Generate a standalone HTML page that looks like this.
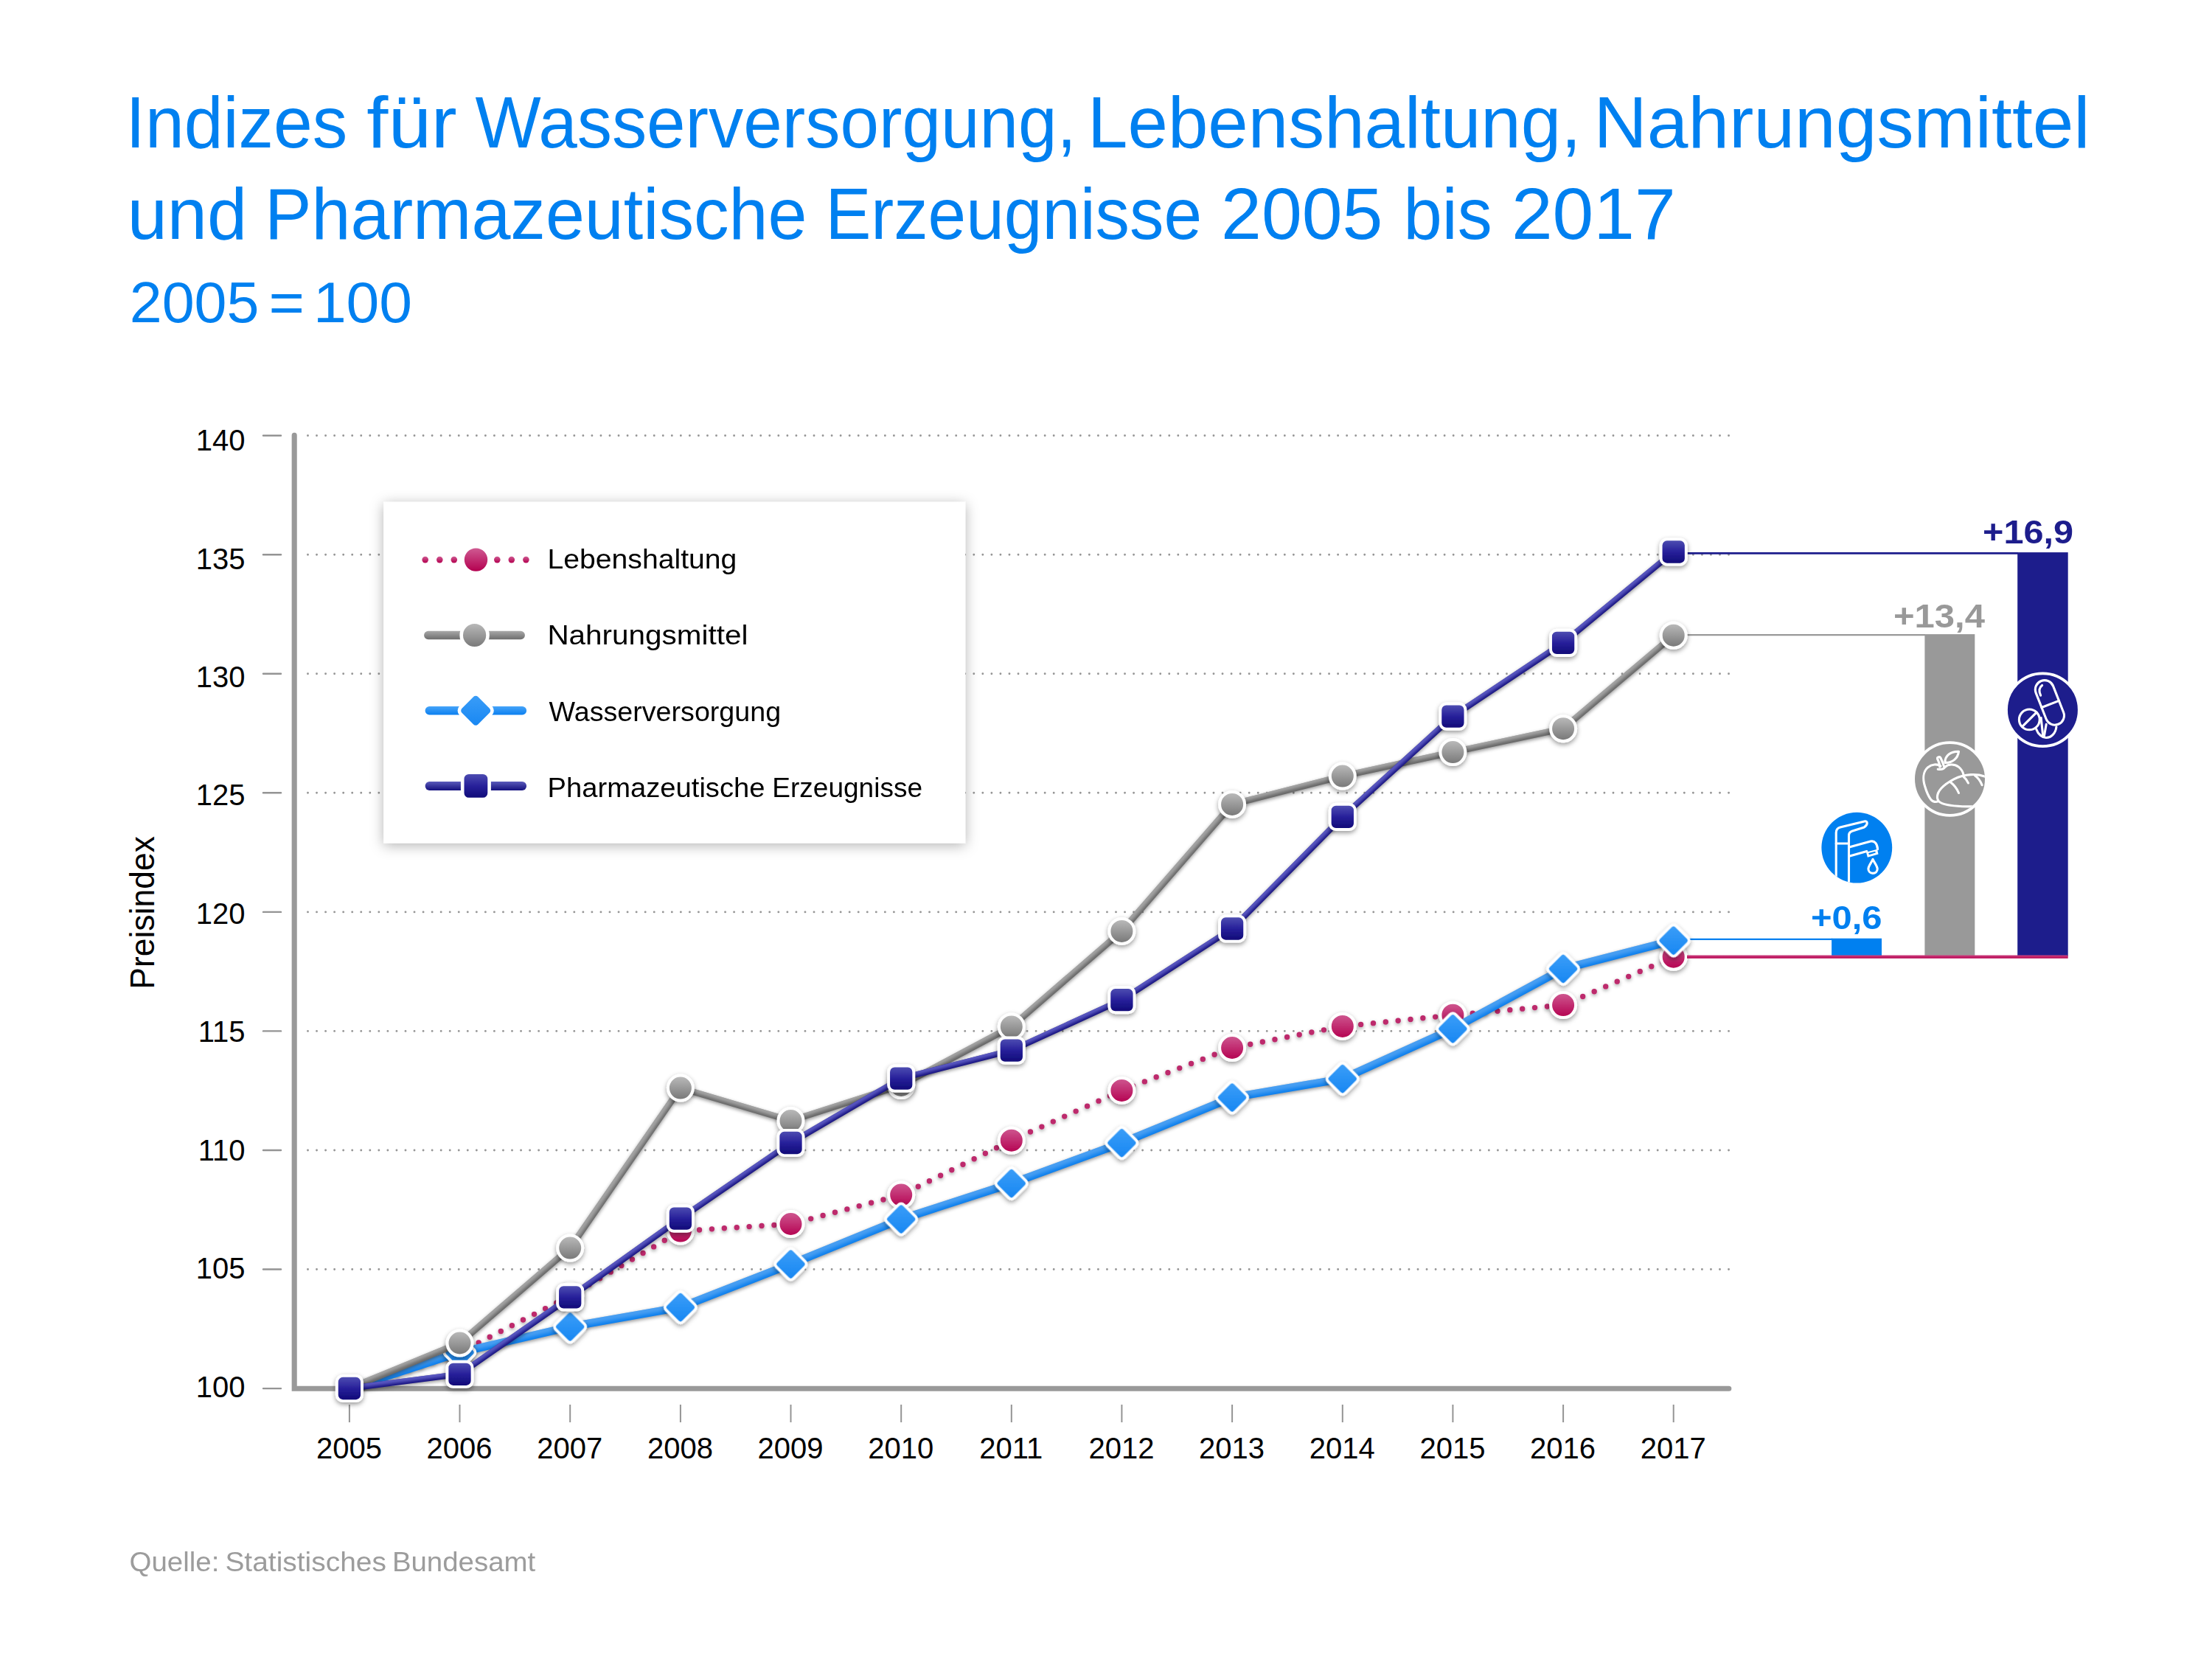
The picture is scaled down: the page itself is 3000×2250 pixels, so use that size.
<!DOCTYPE html>
<html lang="de"><head><meta charset="utf-8">
<title>Indizes für Wasserversorgung, Lebenshaltung, Nahrungsmittel und Pharmazeutische Erzeugnisse 2005 bis 2017</title>
<style>html,body{margin:0;padding:0;background:#fff;}body{width:3000px;height:2250px;overflow:hidden;}svg{display:block;font-family:'Liberation Sans', sans-serif;}</style>
</head><body>
<svg width="3000" height="2250" viewBox="0 0 3000 2250">
<defs>
<filter id="sh" x="-5%" y="-5%" width="110%" height="110%"><feDropShadow dx="0" dy="2" stdDeviation="2.6" flood-color="#000" flood-opacity=".38"/></filter>
<filter id="tGray" x="-3%" y="-3%" width="106%" height="106%" color-interpolation-filters="sRGB"><feGaussianBlur in="SourceAlpha" stdDeviation="2.3" result="b"/><feOffset in="b" dx="-1" dy="-3.6" result="o"/><feFlood flood-color="#fff" flood-opacity=".40"/><feComposite operator="in" in2="o"/><feComposite operator="in" in2="SourceAlpha" result="hl"/><feGaussianBlur in="SourceAlpha" stdDeviation="2.8"/><feOffset dy="2.4"/><feComponentTransfer><feFuncA type="linear" slope=".42"/></feComponentTransfer><feMerge><feMergeNode/><feMergeNode in="SourceGraphic"/><feMergeNode in="hl"/></feMerge></filter>
<filter id="tNavy" x="-3%" y="-3%" width="106%" height="106%" color-interpolation-filters="sRGB"><feGaussianBlur in="SourceAlpha" stdDeviation="2.1" result="b"/><feOffset in="b" dx="-1" dy="-3.4" result="o"/><feFlood flood-color="#8a8af0" flood-opacity=".6"/><feComposite operator="in" in2="o"/><feComposite operator="in" in2="SourceAlpha" result="hl"/><feGaussianBlur in="SourceAlpha" stdDeviation="2.8"/><feOffset dy="2.4"/><feComponentTransfer><feFuncA type="linear" slope=".42"/></feComponentTransfer><feMerge><feMergeNode/><feMergeNode in="SourceGraphic"/><feMergeNode in="hl"/></feMerge></filter>
<filter id="tBlue" x="-3%" y="-3%" width="106%" height="106%" color-interpolation-filters="sRGB"><feGaussianBlur in="SourceAlpha" stdDeviation="2.8" result="b"/><feOffset in="b" dx="-1" dy="-4.4" result="o"/><feFlood flood-color="#fff" flood-opacity=".25"/><feComposite operator="in" in2="o"/><feComposite operator="in" in2="SourceAlpha" result="hl"/><feGaussianBlur in="SourceAlpha" stdDeviation="2.8"/><feOffset dy="2.4"/><feComponentTransfer><feFuncA type="linear" slope=".42"/></feComponentTransfer><feMerge><feMergeNode/><feMergeNode in="SourceGraphic"/><feMergeNode in="hl"/></feMerge></filter>
<filter id="shm" x="-40%" y="-40%" width="180%" height="180%"><feDropShadow dx="0" dy="2.8" stdDeviation="3" flood-color="#000" flood-opacity=".4"/></filter>
<filter id="shbox" x="-10%" y="-10%" width="120%" height="125%"><feDropShadow dx="0" dy="3" stdDeviation="9" flood-color="#000" flood-opacity=".30"/></filter>
<linearGradient id="gGray" x1="0" y1="0" x2="0" y2="1"><stop offset="0" stop-color="#bdbdbd"/><stop offset="1" stop-color="#757575"/></linearGradient>
<linearGradient id="gNavy" x1="0" y1="0" x2="0" y2="1"><stop offset="0" stop-color="#5252b4"/><stop offset=".5" stop-color="#27209a"/><stop offset="1" stop-color="#0d0874"/></linearGradient>
<linearGradient id="gPink" x1="0" y1="0" x2="0" y2="1"><stop offset="0" stop-color="#cf5a92"/><stop offset="1" stop-color="#b4004f"/></linearGradient>
<linearGradient id="gBlue" x1="0" y1="0" x2="0" y2="1"><stop offset="0" stop-color="#3d9ff8"/><stop offset="1" stop-color="#1585f2"/></linearGradient>
<linearGradient id="gBlueD" x1="0" y1="0" x2="1" y2="1"><stop offset="0" stop-color="#3d9ff8"/><stop offset="1" stop-color="#1585f2"/></linearGradient>
<linearGradient id="gPinkL" x1="0" y1="0" x2="0" y2="1"><stop offset="0" stop-color="#cc4381"/><stop offset="1" stop-color="#b60250"/></linearGradient>
<linearGradient id="lGray" x1="0" y1="0" x2="0" y2="1"><stop offset="0" stop-color="#a8a8a8"/><stop offset="1" stop-color="#6e6e6e"/></linearGradient>
<linearGradient id="lNavy" x1="0" y1="0" x2="0" y2="1"><stop offset="0" stop-color="#5a5aba"/><stop offset="1" stop-color="#14107e"/></linearGradient>
<linearGradient id="lBlue" x1="0" y1="0" x2="0" y2="1"><stop offset="0" stop-color="#46a4f9"/><stop offset="1" stop-color="#0c80f0"/></linearGradient>
<g id="mC"><circle r="19" fill="#fff"/></g>
<clipPath id="cpF"><circle cx="2518.3" cy="1149.7" r="47.9"/></clipPath>
<clipPath id="cpA"><circle cx="2644.5" cy="1056.5" r="47.5"/></clipPath>
</defs>
<rect width="3000" height="2250" fill="#fff"/>
<text x="170.5" y="199.8" font-size="99" fill="#0080f0" textLength="300.8" lengthAdjust="spacingAndGlyphs">Indizes</text>
<text x="497.3" y="199.8" font-size="99" fill="#0080f0" textLength="122.3" lengthAdjust="spacingAndGlyphs">für</text>
<text x="644.5" y="199.8" font-size="99" fill="#0080f0" textLength="815.3" lengthAdjust="spacingAndGlyphs">Wasserversorgung,</text>
<text x="1475.1" y="199.8" font-size="99" fill="#0080f0" textLength="669.3" lengthAdjust="spacingAndGlyphs">Lebenshaltung,</text>
<text x="2161.5" y="199.8" font-size="99" fill="#0080f0" textLength="673.1" lengthAdjust="spacingAndGlyphs">Nahrungsmittel</text>
<text x="172.7" y="323.5" font-size="99" fill="#0080f0" textLength="162.4" lengthAdjust="spacingAndGlyphs">und</text>
<text x="359.0" y="323.5" font-size="99" fill="#0080f0" textLength="735.5" lengthAdjust="spacingAndGlyphs">Pharmazeutische</text>
<text x="1119.4" y="323.5" font-size="99" fill="#0080f0" textLength="510.6" lengthAdjust="spacingAndGlyphs">Erzeugnisse</text>
<text x="1656.1" y="323.5" font-size="99" fill="#0080f0" textLength="219.3" lengthAdjust="spacingAndGlyphs">2005</text>
<text x="1903.6" y="323.5" font-size="99" fill="#0080f0" textLength="120.1" lengthAdjust="spacingAndGlyphs">bis</text>
<text x="2049.9" y="323.5" font-size="99" fill="#0080f0" textLength="222.8" lengthAdjust="spacingAndGlyphs">2017</text>
<text x="175.7" y="437.3" font-size="77.5" fill="#0080f0" textLength="175.8" lengthAdjust="spacingAndGlyphs">2005</text>
<text x="364.5" y="437.3" font-size="77.5" fill="#0080f0" textLength="48.5" lengthAdjust="spacingAndGlyphs">=</text>
<text x="559.1" y="437.3" font-size="77.5" fill="#0080f0" text-anchor="end" textLength="134.2" lengthAdjust="spacingAndGlyphs">100</text>
<g stroke="#969696" stroke-width="2.9" stroke-linecap="round" stroke-dasharray="0 12.044" fill="none">
<path d="M417.5 1721.5H2346"/>
<path d="M417.5 1560.0H2346"/>
<path d="M417.5 1398.4H2346"/>
<path d="M417.5 1236.9H2346"/>
<path d="M417.5 1075.3H2346"/>
<path d="M417.5 913.8H2346"/>
<path d="M417.5 752.2H2346"/>
<path d="M417.5 590.7H2346"/>
</g>
<g stroke="#949494" stroke-width="2">
<path stroke-linecap="round" stroke-width="2.4" d="M357 1883.1H381"/>
<path stroke-linecap="round" stroke-width="2.4" d="M357 1721.5H381"/>
<path stroke-linecap="round" stroke-width="2.4" d="M357 1560.0H381"/>
<path stroke-linecap="round" stroke-width="2.4" d="M357 1398.4H381"/>
<path stroke-linecap="round" stroke-width="2.4" d="M357 1236.9H381"/>
<path stroke-linecap="round" stroke-width="2.4" d="M357 1075.3H381"/>
<path stroke-linecap="round" stroke-width="2.4" d="M357 913.8H381"/>
<path stroke-linecap="round" stroke-width="2.4" d="M357 752.2H381"/>
<path stroke-linecap="round" stroke-width="2.4" d="M357 590.7H381"/>
<path d="M473.9 1905V1929"/>
<path d="M623.5 1905V1929"/>
<path d="M773.2 1905V1929"/>
<path d="M922.9 1905V1929"/>
<path d="M1072.5 1905V1929"/>
<path d="M1222.2 1905V1929"/>
<path d="M1371.8 1905V1929"/>
<path d="M1521.4 1905V1929"/>
<path d="M1671.1 1905V1929"/>
<path d="M1820.8 1905V1929"/>
<path d="M1970.4 1905V1929"/>
<path d="M2120.1 1905V1929"/>
<path d="M2269.7 1905V1929"/>
</g>
<text x="332.5" y="1894.8" font-size="40" fill="#000" text-anchor="end">100</text>
<text x="332.5" y="1734.3" font-size="40" fill="#000" text-anchor="end">105</text>
<text x="332.5" y="1573.9" font-size="40" fill="#000" text-anchor="end">110</text>
<text x="332.5" y="1413.4" font-size="40" fill="#000" text-anchor="end">115</text>
<text x="332.5" y="1252.9" font-size="40" fill="#000" text-anchor="end">120</text>
<text x="332.5" y="1092.4" font-size="40" fill="#000" text-anchor="end">125</text>
<text x="332.5" y="932.0" font-size="40" fill="#000" text-anchor="end">130</text>
<text x="332.5" y="771.5" font-size="40" fill="#000" text-anchor="end">135</text>
<text x="332.5" y="611.0" font-size="40" fill="#000" text-anchor="end">140</text>
<text x="473.4" y="1978.2" font-size="40" fill="#000" text-anchor="middle">2005</text>
<text x="623.0" y="1978.2" font-size="40" fill="#000" text-anchor="middle">2006</text>
<text x="772.7" y="1978.2" font-size="40" fill="#000" text-anchor="middle">2007</text>
<text x="922.4" y="1978.2" font-size="40" fill="#000" text-anchor="middle">2008</text>
<text x="1072.0" y="1978.2" font-size="40" fill="#000" text-anchor="middle">2009</text>
<text x="1221.7" y="1978.2" font-size="40" fill="#000" text-anchor="middle">2010</text>
<text x="1371.3" y="1978.2" font-size="40" fill="#000" text-anchor="middle">2011</text>
<text x="1520.9" y="1978.2" font-size="40" fill="#000" text-anchor="middle">2012</text>
<text x="1670.6" y="1978.2" font-size="40" fill="#000" text-anchor="middle">2013</text>
<text x="1820.2" y="1978.2" font-size="40" fill="#000" text-anchor="middle">2014</text>
<text x="1969.9" y="1978.2" font-size="40" fill="#000" text-anchor="middle">2015</text>
<text x="2119.6" y="1978.2" font-size="40" fill="#000" text-anchor="middle">2016</text>
<text x="2269.2" y="1978.2" font-size="40" fill="#000" text-anchor="middle">2017</text>
<text transform="translate(208.9 1237.9) rotate(-90)" text-anchor="middle" font-size="46" fill="#000" textLength="207.6" lengthAdjust="spacingAndGlyphs">Preisindex</text>
<path d="M399.2 590.4V1883.2H2344.8" fill="none" stroke="#999" stroke-width="7.1" stroke-linecap="round" stroke-linejoin="miter"/>
<rect x="520.2" y="680.8" width="789" height="462.8" fill="#fff" filter="url(#shbox)"/>
<path d="M2270 750.4H2737" stroke="#1d1d8c" stroke-width="2.7"/>
<path d="M2270 861.2H2611" stroke="#999" stroke-width="2.3"/>
<path d="M2270 1273.9H2485" stroke="#0080f0" stroke-width="2.4"/>
<rect x="2484.1" y="1272.7" width="67.9" height="24" fill="#0080f0"/>
<rect x="2610.4" y="860.1" width="67.9" height="437" fill="#999"/>
<rect x="2736.2" y="749.1" width="68.5" height="548" fill="#1d1d8c"/>
<g filter="url(#sh)" fill="none" stroke-linejoin="round" stroke-linecap="round">
<polyline points="473.9,1883.0 623.5,1834.0 773.2,1757.5 922.9,1669.6 1072.5,1660.0 1222.2,1620.6 1371.8,1546.7 1521.4,1478.9 1671.1,1421.0 1820.8,1391.9 1970.4,1376.7 2120.1,1363.1 2269.7,1297.7" stroke="#bd2a6c" stroke-width="7.4" stroke-dasharray="0 16.93"/>
</g>
<g filter="url(#shm)">
<circle cx="623.5" cy="1834.0" r="17" fill="url(#gPink)" stroke="#fff" stroke-width="4"/>
<circle cx="773.2" cy="1757.5" r="17" fill="url(#gPink)" stroke="#fff" stroke-width="4"/>
<circle cx="922.9" cy="1669.6" r="17" fill="url(#gPink)" stroke="#fff" stroke-width="4"/>
<circle cx="1072.5" cy="1660.0" r="17" fill="url(#gPink)" stroke="#fff" stroke-width="4"/>
<circle cx="1222.2" cy="1620.6" r="17" fill="url(#gPink)" stroke="#fff" stroke-width="4"/>
<circle cx="1371.8" cy="1546.7" r="17" fill="url(#gPink)" stroke="#fff" stroke-width="4"/>
<circle cx="1521.4" cy="1478.9" r="17" fill="url(#gPink)" stroke="#fff" stroke-width="4"/>
<circle cx="1671.1" cy="1421.0" r="17" fill="url(#gPink)" stroke="#fff" stroke-width="4"/>
<circle cx="1820.8" cy="1391.9" r="17" fill="url(#gPink)" stroke="#fff" stroke-width="4"/>
<circle cx="1970.4" cy="1376.7" r="17" fill="url(#gPink)" stroke="#fff" stroke-width="4"/>
<circle cx="2120.1" cy="1363.1" r="17" fill="url(#gPink)" stroke="#fff" stroke-width="4"/>
<circle cx="2269.7" cy="1297.7" r="17" fill="url(#gPink)" stroke="#fff" stroke-width="4"/>
</g>
<g filter="url(#tBlue)" fill="none" stroke-linejoin="round" stroke-linecap="round">
<polyline points="473.9,1883.0 623.5,1834.2 773.2,1799.4 922.9,1773.0 1072.5,1714.5 1222.2,1653.5 1371.8,1605.0 1521.4,1550.1 1671.1,1488.5 1820.8,1463.1 1970.4,1395.3 2120.1,1313.9 2269.7,1275.6" stroke="#0c7fee" stroke-width="10.8"/>
</g>
<g filter="url(#shm)">
<rect x="-16.4" y="-16.4" width="32.8" height="32.8" rx="5.4" transform="translate(623.5 1834.2) rotate(45)" fill="url(#gBlueD)" stroke="#fff" stroke-width="3.8"/>
<rect x="-16.4" y="-16.4" width="32.8" height="32.8" rx="5.4" transform="translate(773.2 1799.4) rotate(45)" fill="url(#gBlueD)" stroke="#fff" stroke-width="3.8"/>
<rect x="-16.4" y="-16.4" width="32.8" height="32.8" rx="5.4" transform="translate(922.9 1773.0) rotate(45)" fill="url(#gBlueD)" stroke="#fff" stroke-width="3.8"/>
<rect x="-16.4" y="-16.4" width="32.8" height="32.8" rx="5.4" transform="translate(1072.5 1714.5) rotate(45)" fill="url(#gBlueD)" stroke="#fff" stroke-width="3.8"/>
<rect x="-16.4" y="-16.4" width="32.8" height="32.8" rx="5.4" transform="translate(1222.2 1653.5) rotate(45)" fill="url(#gBlueD)" stroke="#fff" stroke-width="3.8"/>
<rect x="-16.4" y="-16.4" width="32.8" height="32.8" rx="5.4" transform="translate(1371.8 1605.0) rotate(45)" fill="url(#gBlueD)" stroke="#fff" stroke-width="3.8"/>
<rect x="-16.4" y="-16.4" width="32.8" height="32.8" rx="5.4" transform="translate(1521.4 1550.1) rotate(45)" fill="url(#gBlueD)" stroke="#fff" stroke-width="3.8"/>
<rect x="-16.4" y="-16.4" width="32.8" height="32.8" rx="5.4" transform="translate(1671.1 1488.5) rotate(45)" fill="url(#gBlueD)" stroke="#fff" stroke-width="3.8"/>
<rect x="-16.4" y="-16.4" width="32.8" height="32.8" rx="5.4" transform="translate(1820.8 1463.1) rotate(45)" fill="url(#gBlueD)" stroke="#fff" stroke-width="3.8"/>
<rect x="-16.4" y="-16.4" width="32.8" height="32.8" rx="5.4" transform="translate(1970.4 1395.3) rotate(45)" fill="url(#gBlueD)" stroke="#fff" stroke-width="3.8"/>
<rect x="-16.4" y="-16.4" width="32.8" height="32.8" rx="5.4" transform="translate(2120.1 1313.9) rotate(45)" fill="url(#gBlueD)" stroke="#fff" stroke-width="3.8"/>
<rect x="-16.4" y="-16.4" width="32.8" height="32.8" rx="5.4" transform="translate(2269.7 1275.6) rotate(45)" fill="url(#gBlueD)" stroke="#fff" stroke-width="3.8"/>
</g>
<g filter="url(#tGray)" fill="none" stroke-linejoin="round" stroke-linecap="round">
<polyline points="473.9,1883.0 623.5,1821.5 773.2,1692.6 922.9,1475.6 1072.5,1520.0 1222.2,1472.0 1371.8,1392.4 1521.4,1262.9 1671.1,1090.9 1820.8,1052.6 1970.4,1020.1 2120.1,988.2 2269.7,861.7" stroke="#686868" stroke-width="8.6"/>
</g>
<g filter="url(#shm)">
<circle cx="623.5" cy="1821.5" r="17" fill="url(#gGray)" stroke="#fff" stroke-width="4"/>
<circle cx="773.2" cy="1692.6" r="17" fill="url(#gGray)" stroke="#fff" stroke-width="4"/>
<circle cx="922.9" cy="1475.6" r="17" fill="url(#gGray)" stroke="#fff" stroke-width="4"/>
<circle cx="1072.5" cy="1520.0" r="17" fill="url(#gGray)" stroke="#fff" stroke-width="4"/>
<circle cx="1222.2" cy="1472.0" r="17" fill="url(#gGray)" stroke="#fff" stroke-width="4"/>
<circle cx="1371.8" cy="1392.4" r="17" fill="url(#gGray)" stroke="#fff" stroke-width="4"/>
<circle cx="1521.4" cy="1262.9" r="17" fill="url(#gGray)" stroke="#fff" stroke-width="4"/>
<circle cx="1671.1" cy="1090.9" r="17" fill="url(#gGray)" stroke="#fff" stroke-width="4"/>
<circle cx="1820.8" cy="1052.6" r="17" fill="url(#gGray)" stroke="#fff" stroke-width="4"/>
<circle cx="1970.4" cy="1020.1" r="17" fill="url(#gGray)" stroke="#fff" stroke-width="4"/>
<circle cx="2120.1" cy="988.2" r="17" fill="url(#gGray)" stroke="#fff" stroke-width="4"/>
<circle cx="2269.7" cy="861.7" r="17" fill="url(#gGray)" stroke="#fff" stroke-width="4"/>
</g>
<g filter="url(#tNavy)" fill="none" stroke-linejoin="round" stroke-linecap="round">
<polyline points="473.9,1883.0 623.5,1863.8 773.2,1759.4 922.9,1652.6 1072.5,1550.0 1222.2,1462.6 1371.8,1424.6 1521.4,1356.2 1671.1,1259.5 1820.8,1107.9 1970.4,971.6 2120.1,871.9 2269.7,748.5" stroke="#15107e" stroke-width="8.0"/>
</g>
<g filter="url(#shm)">
<rect x="456.8" y="1865.9" width="34.2" height="34.2" rx="8.2" fill="url(#gNavy)" stroke="#fff" stroke-width="3.9"/>
<rect x="606.4" y="1846.7" width="34.2" height="34.2" rx="8.2" fill="url(#gNavy)" stroke="#fff" stroke-width="3.9"/>
<rect x="756.1" y="1742.3" width="34.2" height="34.2" rx="8.2" fill="url(#gNavy)" stroke="#fff" stroke-width="3.9"/>
<rect x="905.8" y="1635.5" width="34.2" height="34.2" rx="8.2" fill="url(#gNavy)" stroke="#fff" stroke-width="3.9"/>
<rect x="1055.4" y="1532.9" width="34.2" height="34.2" rx="8.2" fill="url(#gNavy)" stroke="#fff" stroke-width="3.9"/>
<rect x="1205.1" y="1445.5" width="34.2" height="34.2" rx="8.2" fill="url(#gNavy)" stroke="#fff" stroke-width="3.9"/>
<rect x="1354.7" y="1407.5" width="34.2" height="34.2" rx="8.2" fill="url(#gNavy)" stroke="#fff" stroke-width="3.9"/>
<rect x="1504.3" y="1339.1" width="34.2" height="34.2" rx="8.2" fill="url(#gNavy)" stroke="#fff" stroke-width="3.9"/>
<rect x="1654.0" y="1242.4" width="34.2" height="34.2" rx="8.2" fill="url(#gNavy)" stroke="#fff" stroke-width="3.9"/>
<rect x="1803.7" y="1090.8" width="34.2" height="34.2" rx="8.2" fill="url(#gNavy)" stroke="#fff" stroke-width="3.9"/>
<rect x="1953.3" y="954.5" width="34.2" height="34.2" rx="8.2" fill="url(#gNavy)" stroke="#fff" stroke-width="3.9"/>
<rect x="2103.0" y="854.8" width="34.2" height="34.2" rx="8.2" fill="url(#gNavy)" stroke="#fff" stroke-width="3.9"/>
<rect x="2252.6" y="731.4" width="34.2" height="34.2" rx="8.2" fill="url(#gNavy)" stroke="#fff" stroke-width="3.9"/>
</g>
<rect x="2288" y="1295.5" width="516.7" height="4.3" fill="url(#gPinkL)"/>
<text x="742.4" y="771" font-size="37.8" fill="#000" textLength="257" lengthAdjust="spacingAndGlyphs">Lebenshaltung</text>
<text x="742.4" y="874.3" font-size="37.8" fill="#000" textLength="272" lengthAdjust="spacingAndGlyphs">Nahrungsmittel</text>
<text x="744.6" y="977.6" font-size="37.8" fill="#000" textLength="314.5" lengthAdjust="spacingAndGlyphs">Wasserversorgung</text>
<text x="742.6" y="1080.9" font-size="37.8" fill="#000" textLength="294.9" lengthAdjust="spacingAndGlyphs">Pharmazeutische</text>
<text x="1047.3" y="1080.9" font-size="37.8" fill="#000" textLength="203.7" lengthAdjust="spacingAndGlyphs">Erzeugnisse</text>
<g fill="url(#gPink)">
<circle cx="576.7" cy="759.1" r="4.3"/>
<circle cx="596.3" cy="759.1" r="4.3"/>
<circle cx="615.8" cy="759.1" r="4.3"/>
<circle cx="674.3" cy="759.1" r="4.3"/>
<circle cx="693.8" cy="759.1" r="4.3"/>
<circle cx="713.4" cy="759.1" r="4.3"/>
<circle cx="645.5" cy="759.1" r="15.7"/></g>
<rect x="575.1" y="855.8" width="136.8" height="11.4" rx="5.7" fill="url(#lGray)"/>
<circle cx="643.6" cy="861.5" r="17.9" fill="url(#gGray)" stroke="#fff" stroke-width="4.6"/>
<rect x="576.6" y="958" width="137.5" height="11.4" rx="5.7" fill="url(#lBlue)"/>
<rect x="-17.7" y="-17.7" width="35.4" height="35.4" rx="6.6" transform="translate(645.2 963.8) rotate(45)" fill="url(#gBlueD)" stroke="#fff" stroke-width="4.6"/>
<rect x="576.6" y="1060.1" width="137.5" height="11.8" rx="5.9" fill="url(#lNavy)"/>
<rect x="627.2" y="1047.7" width="36.4" height="36.4" rx="8.6" fill="url(#gNavy)" stroke="#fff" stroke-width="4.6"/>
<text x="2689" y="737.2" font-size="43.5" fill="#1d1d8c" font-weight="bold" textLength="123" lengthAdjust="spacingAndGlyphs">+16,9</text>
<text x="2568" y="850.7" font-size="43.5" fill="#999" font-weight="bold" textLength="124" lengthAdjust="spacingAndGlyphs">+13,4</text>
<text x="2456" y="1260" font-size="43.5" fill="#0080f0" font-weight="bold" textLength="96.5" lengthAdjust="spacingAndGlyphs">+0,6</text>
<circle cx="2518.3" cy="1149.7" r="47.9" fill="#0080f0"/>
<g clip-path="url(#cpF)" fill="none" stroke="#fff" stroke-width="3.1" stroke-linejoin="round" stroke-linecap="round">
<path d="M 2490.2 1199.8 L 2490.2 1129.4 Q 2490.2 1123.5 2495.7 1122.0 L 2528.6 1113.9 C 2533.2 1112.9 2533.8 1118.4 2528.2 1122.0 L 2511.7 1127.3 Q 2507.5 1128.8 2507.5 1133.2 L 2507.5 1199.8"/>
<path d="M 2490.2 1144.0 L 2507.5 1144.0"/>
<path d="M 2507.9 1149.0 L 2537.0 1141.1 C 2542.5 1139.6 2546.2 1145.0 2546.5 1151.7"/>
<path d="M 2507.9 1161.2 L 2531.8 1154.6"/>
<path fill="#fff" stroke="none" d="M 2531.0 1155.7 L 2546.0 1151.7 L 2547.5 1158.6 L 2532.8 1162.7 Z"/>
<path fill="#0080f0" stroke="none" d="M 2534.2 1157.1 L 2543.2 1154.8 L 2543.9 1156.6 L 2534.9 1159.2 Z"/>
<path d="M 2540.0 1165.4 C 2537.9 1170.3 2533.9 1174.5 2533.9 1178.6 C 2533.9 1181.9 2536.6 1184.4 2540.0 1184.4 C 2543.4 1184.4 2546.2 1181.9 2546.2 1178.6 C 2546.2 1174.5 2542.1 1170.3 2540.0 1165.4 Z"/>
</g>
<circle cx="2644.5" cy="1056.5" r="49.4" fill="#999" stroke="#fff" stroke-width="3.8"/>
<g clip-path="url(#cpA)" fill="none" stroke="#fff" stroke-width="3.1" stroke-linejoin="round" stroke-linecap="round">
<path d="M 2628.2 1043.2 C 2634.1 1044.1 2636.7 1042.4 2637.9 1040.3 C 2641.7 1036.5 2650.2 1035.6 2656.1 1039.9 C 2660.3 1043.2 2662.4 1047.4 2663.2 1051.2"/>
<path d="M 2632.0 1039.0 C 2627.4 1035.6 2619.8 1036.5 2614.7 1040.7 C 2608.0 1046.6 2607.6 1056.7 2610.5 1066.0 C 2613.0 1074.5 2615.6 1080.4 2618.9 1084.6 C 2621.5 1087.5 2625.7 1088.4 2628.6 1086.7"/>
<path d="M 2630.8 1040.3 C 2630.8 1035.6 2629.1 1032.3 2627.6 1029.3 C 2627.0 1026.8 2630.8 1025.5 2632.0 1028.0 C 2634.1 1032.3 2635.4 1035.6 2636.7 1039.9"/>
<path d="M 2637.9 1034.4 C 2637.5 1024.7 2645.9 1018.8 2656.5 1019.2 C 2655.2 1028.9 2647.6 1034.8 2637.9 1034.4 Z"/>
<path d="M 2693.2 1053.5 C 2682.2 1049.1 2664.5 1049.1 2650.2 1056.7 C 2636.7 1063.9 2627.4 1072.8 2627.4 1081.2 C 2627.4 1085.4 2629.9 1088.0 2634.1 1089.6 C 2644.3 1093.4 2661.1 1094.0 2677.2 1093.9"/>
<path d="M 2644.7 1060.3 C 2651.0 1065.2 2654.4 1070.2 2656.5 1075.5"/>
<path d="M 2662.4 1052.7 C 2665.8 1055.5 2667.9 1058.4 2669.4 1062.0"/>
<path d="M 2678.4 1051.7 C 2683.1 1055.0 2686.0 1059.3 2688.1 1064.7"/>
</g>
<circle cx="2770.4" cy="962.7" r="49.4" fill="#1d1d8c" stroke="#fff" stroke-width="3.8"/>
<g fill="none" stroke="#fff" stroke-width="3.1" stroke-linejoin="round" stroke-linecap="round">
<g transform="translate(2779.9 952.9) rotate(-21.5)">
<rect x="-12.6" y="-31.6" width="25.2" height="63.2" rx="12.6" fill="#1d1d8c"/>
<path d="M-12.6 2.2H12.6"/>
<path d="M-1 -25.6C-6.5 -24 -8.2 -19.5 -7.9 -13.5"/>
</g>
<circle cx="2752.3" cy="975.9" r="13.9"/>
<path d="M2742.5 985.7L2762.1 966.1"/>
<path d="M 2761.7 988.9 C 2764.3 996.3 2770.2 1000.7 2775.2 1000.5 C 2782.0 1000.4 2787.9 994.6 2788.9 985.8"/>
<path d="M 2768.1 973.5 L 2770.8 998.4"/>
<path d="M 2775.2 982.4 L 2772.3 998.7"/>
</g>
<text x="175.5" y="2131.4" font-size="37.6" fill="#9c9c9c" textLength="121.9" lengthAdjust="spacingAndGlyphs">Quelle:</text>
<text x="305.4" y="2131.4" font-size="37.6" fill="#9c9c9c" textLength="218.6" lengthAdjust="spacingAndGlyphs">Statistisches</text>
<text x="531.9" y="2131.4" font-size="37.6" fill="#9c9c9c" textLength="194.3" lengthAdjust="spacingAndGlyphs">Bundesamt</text>
</svg></body></html>
